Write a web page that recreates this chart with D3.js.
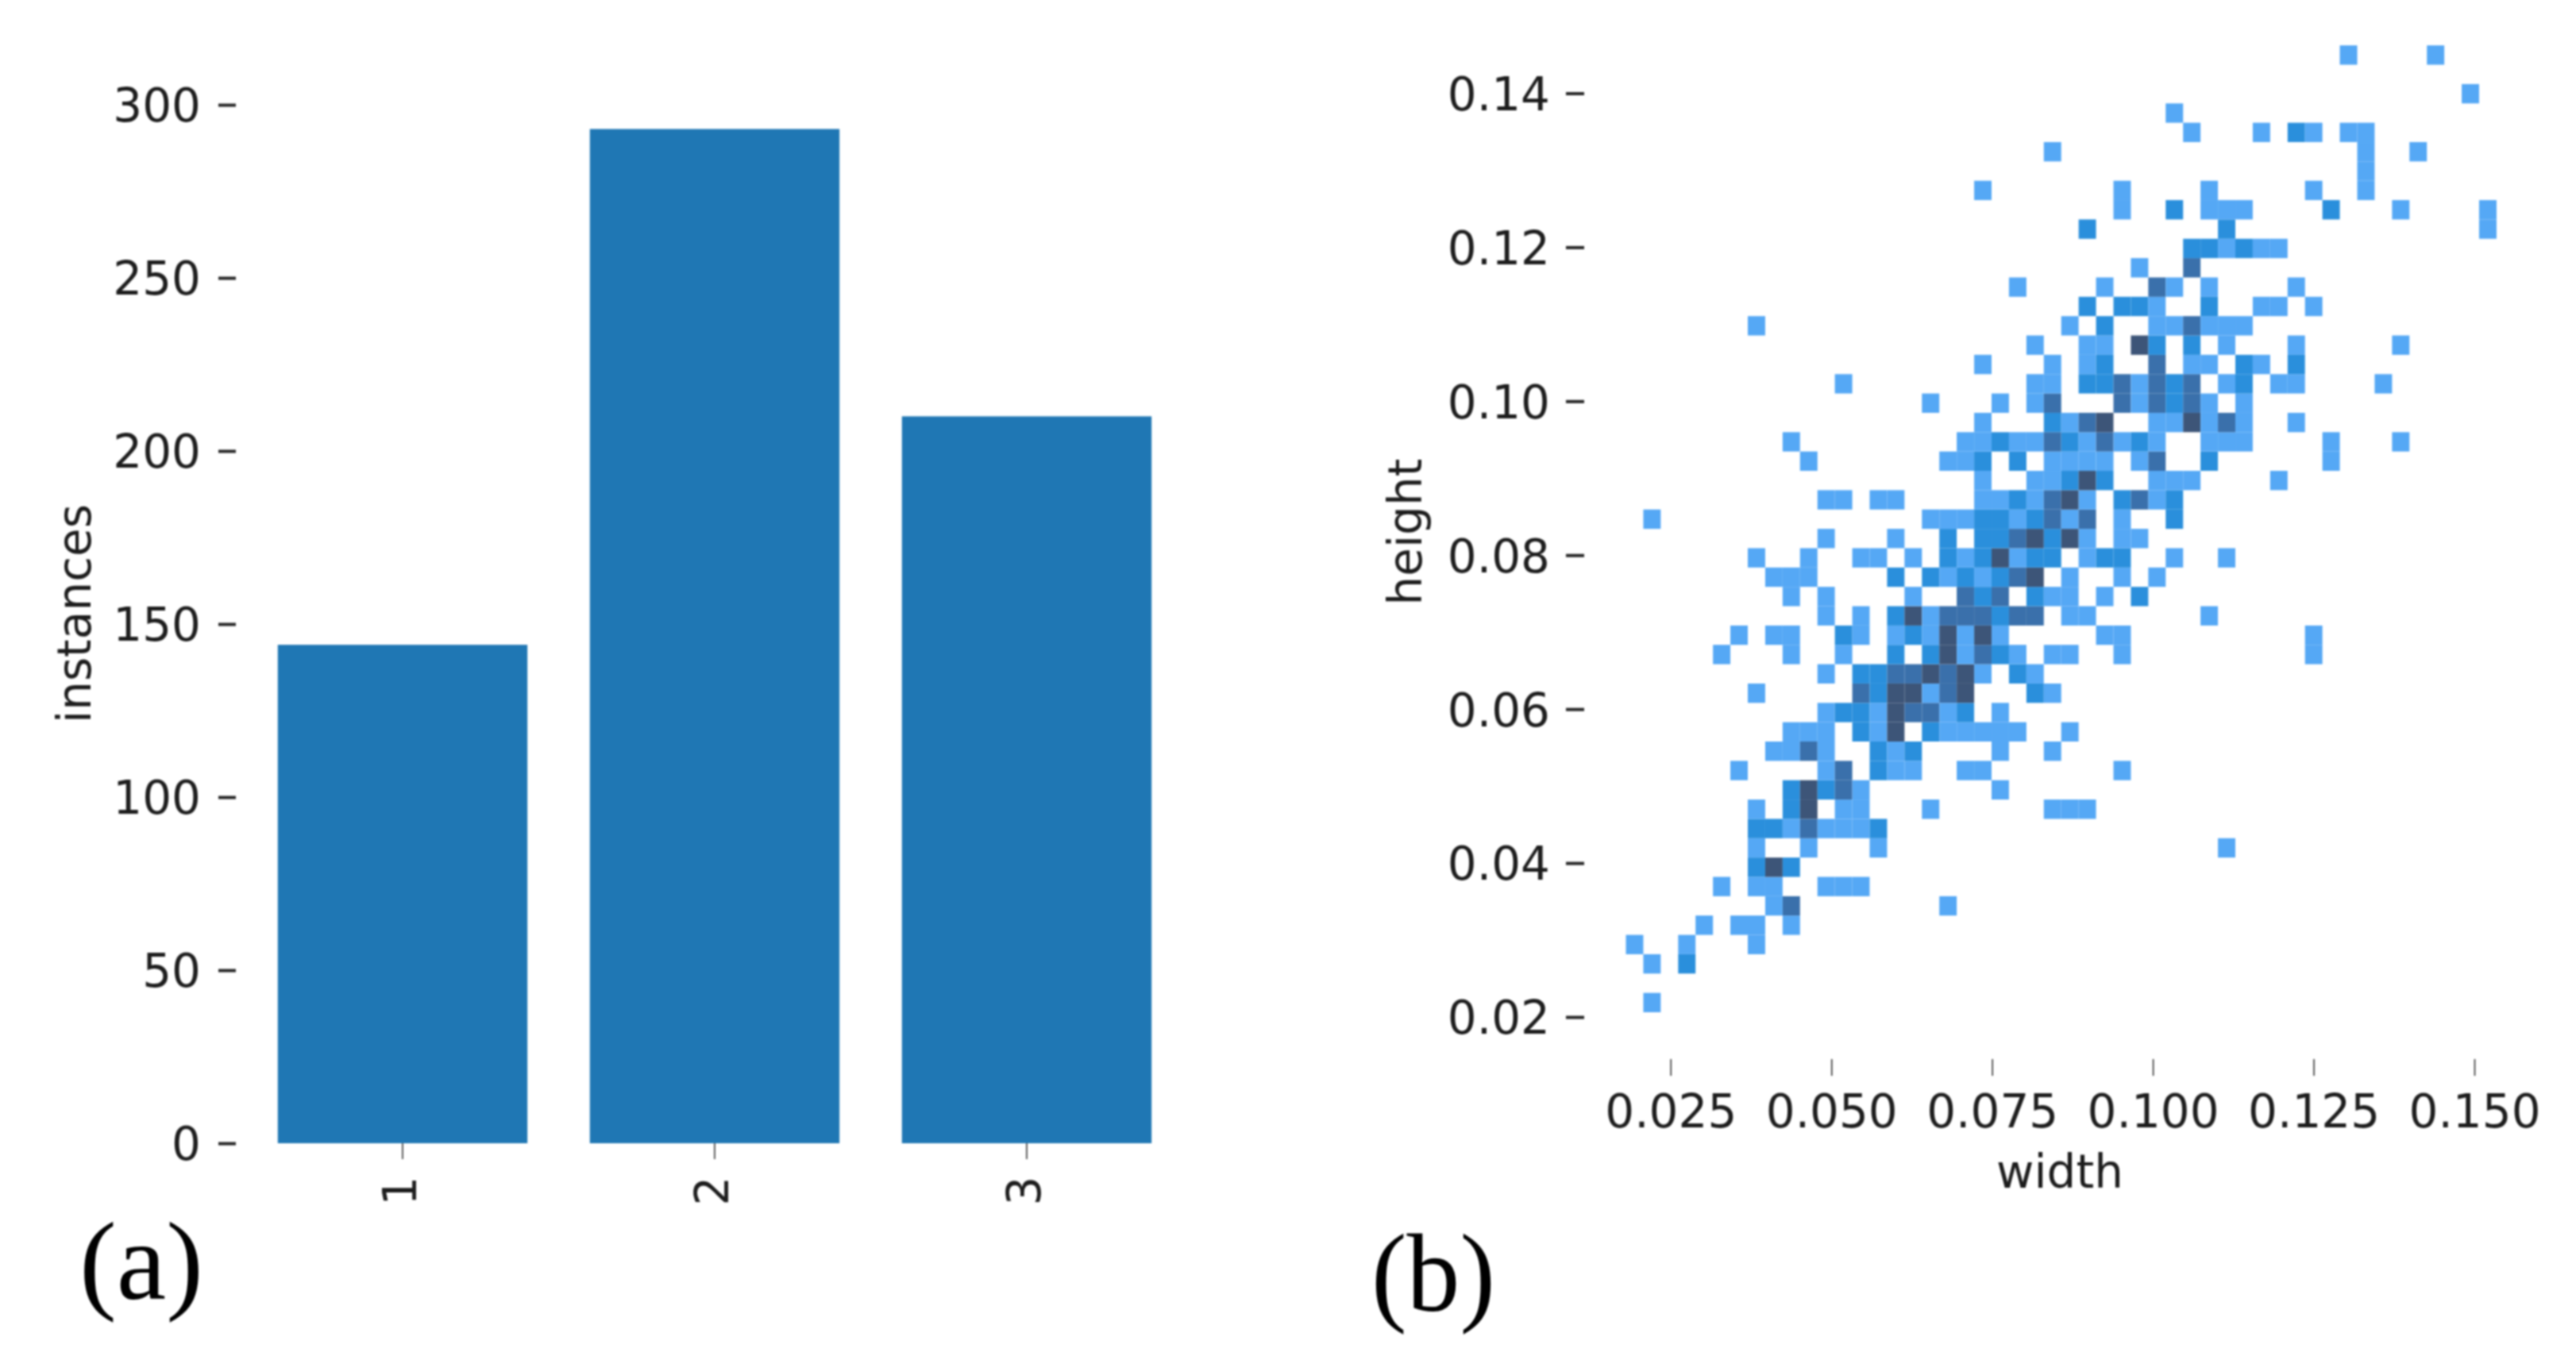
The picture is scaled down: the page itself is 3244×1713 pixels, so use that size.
<!DOCTYPE html>
<meta charset="utf-8" />
<title>Instances and box sizes</title>

<script src="https://d3js.org/d3.v7.min.js"></script>

<style>
  html,
  body {
    margin: 0;
    background: #fff;
  }

  svg {
    display: block;
    filter: blur(0.8px);
  }

  text {
    font-family: "DejaVu Sans", sans-serif;
    font-size: 58px;
    fill: #1c1c1c;
  }

  .tick line {
    stroke: #262626;
  }

  .panel-label {
    font-family: "Liberation Serif", serif;
    font-size: 140px;
    fill: #000;
  }
</style>

<div id="chart"></div>

<script>
  // (a) bar chart
  var barCategories = ["1", "2", "3"];
  var barValues = [144, 293, 210];
  var barTicks = [0, 50, 100, 150, 200, 250, 300];

  // (b) histogram bins
  var xTicks = [0.025, 0.05, 0.075, 0.1, 0.125, 0.15];
  var yTicks = [0.02, 0.04, 0.06, 0.08, 0.1, 0.12, 0.14];
  var xBinStart = 0.01805;
  var xBinSize = 0.002708;
  var yBinStart = 0.02062;
  var yBinSize = 0.002512;

  // one list per height bin, bottom row first, each entry is [width bin, count level]
  var binRows = [
    [[1, 1]],
    [],
    [[1, 1], [3, 2]],
    [[0, 1], [3, 1], [7, 1]],
    [[4, 1], [6, 1], [7, 1], [9, 1]],
    [[8, 1], [9, 3], [18, 1]],
    [[5, 1], [7, 1], [8, 1], [11, 1], [12, 1], [13, 1]],
    [[7, 2], [8, 4], [9, 2]],
    [[7, 1], [10, 1], [14, 1], [34, 1]],
    [[7, 2], [8, 2], [9, 1], [10, 3], [11, 1], [12, 1], [13, 1], [14, 2]],
    [[7, 1], [9, 2], [10, 4], [12, 1], [13, 1], [17, 1], [24, 1], [25, 1], [26, 1]],
    [[9, 2], [10, 4], [11, 2], [12, 3], [13, 1], [21, 1]],
    [[6, 1], [11, 1], [12, 3], [14, 2], [15, 1], [16, 1], [19, 1], [20, 1], [28, 1]],
    [[8, 1], [9, 1], [10, 3], [11, 1], [14, 2], [15, 1], [16, 2], [21, 1], [24, 1]],
    [[9, 1], [10, 1], [11, 1], [13, 2], [14, 1], [15, 4], [17, 2], [18, 1], [19, 1], [20, 1], [21, 1], [22, 1], [25, 1]],
    [[11, 1], [12, 2], [13, 2], [14, 1], [15, 4], [16, 3], [17, 3], [18, 1], [19, 2], [21, 1]],
    [[7, 1], [13, 3], [14, 2], [15, 4], [16, 4], [17, 1], [18, 3], [19, 4], [23, 2], [24, 1]],
    [[11, 1], [13, 2], [14, 2], [15, 3], [16, 3], [17, 4], [18, 3], [19, 4], [20, 1], [22, 2], [23, 1]],
    [[5, 1], [9, 1], [12, 1], [15, 2], [17, 2], [18, 4], [19, 1], [20, 3], [21, 2], [22, 1], [24, 1], [25, 1], [28, 1], [39, 1]],
    [[6, 1], [8, 1], [9, 1], [12, 2], [13, 1], [15, 1], [16, 2], [17, 1], [18, 4], [19, 1], [20, 4], [21, 1], [27, 1], [28, 1], [39, 1]],
    [[11, 1], [13, 1], [15, 2], [16, 4], [17, 1], [18, 3], [19, 3], [20, 3], [21, 2], [22, 3], [23, 3], [25, 1], [26, 1], [33, 1]],
    [[9, 1], [11, 1], [16, 1], [19, 3], [20, 2], [21, 3], [23, 2], [24, 1], [25, 1], [27, 1], [29, 2]],
    [[8, 1], [9, 1], [10, 1], [15, 2], [17, 2], [18, 1], [19, 2], [20, 1], [21, 2], [22, 3], [23, 4], [25, 1], [28, 1], [30, 1]],
    [[7, 1], [10, 1], [13, 1], [14, 1], [16, 1], [18, 2], [19, 1], [20, 2], [21, 4], [22, 1], [23, 2], [24, 2], [26, 1], [27, 2], [28, 2], [31, 1], [34, 1]],
    [[11, 1], [15, 1], [18, 2], [20, 2], [21, 2], [22, 3], [23, 4], [24, 2], [25, 4], [26, 1], [28, 1], [29, 1]],
    [[1, 1], [17, 1], [18, 1], [19, 1], [20, 2], [21, 2], [22, 1], [23, 2], [24, 3], [25, 1], [26, 3], [28, 1], [31, 2]],
    [[11, 1], [12, 1], [14, 1], [15, 1], [20, 1], [21, 1], [22, 2], [23, 1], [24, 3], [25, 4], [26, 1], [28, 2], [29, 3], [30, 1], [31, 2]],
    [[20, 1], [23, 1], [24, 1], [25, 2], [26, 4], [27, 2], [30, 1], [31, 1], [32, 1], [37, 1]],
    [[10, 1], [18, 1], [19, 1], [20, 2], [22, 2], [24, 1], [25, 1], [26, 1], [27, 1], [29, 1], [30, 3], [33, 2], [40, 1]],
    [[9, 1], [19, 1], [20, 1], [21, 2], [22, 1], [23, 1], [24, 3], [25, 2], [26, 1], [27, 3], [28, 1], [29, 2], [30, 1], [33, 1], [34, 1], [35, 1], [40, 1], [44, 1]],
    [[20, 1], [24, 2], [25, 1], [26, 3], [27, 4], [30, 1], [31, 1], [32, 4], [33, 1], [34, 3], [35, 1], [38, 1]],
    [[17, 1], [21, 1], [23, 1], [24, 3], [28, 3], [29, 1], [30, 3], [31, 2], [32, 3], [33, 1], [35, 1]],
    [[12, 1], [23, 1], [24, 1], [26, 2], [27, 2], [28, 3], [29, 1], [30, 3], [31, 2], [32, 3], [34, 1], [35, 2], [37, 1], [38, 1], [43, 1]],
    [[20, 1], [24, 1], [26, 1], [27, 2], [30, 3], [32, 1], [33, 1], [35, 2], [36, 1], [38, 2]],
    [[23, 1], [26, 1], [27, 1], [29, 4], [30, 2], [32, 2], [34, 1], [38, 1], [44, 1]],
    [[7, 1], [25, 1], [27, 2], [30, 1], [31, 1], [32, 3], [33, 1], [34, 1], [35, 1]],
    [[26, 2], [28, 2], [29, 2], [30, 1], [33, 2], [36, 1], [37, 1], [39, 1]],
    [[22, 1], [27, 1], [30, 3], [31, 1], [33, 1], [38, 1]],
    [[29, 1], [32, 3]],
    [[32, 2], [33, 2], [34, 1], [35, 2], [36, 1], [37, 1]],
    [[26, 2], [34, 2], [49, 1]],
    [[28, 1], [31, 2], [33, 1], [34, 1], [35, 1], [40, 2], [44, 1], [49, 1]],
    [[20, 1], [28, 1], [33, 1], [39, 1], [42, 1]],
    [[42, 1]],
    [[24, 1], [42, 1], [45, 1]],
    [[32, 1], [36, 1], [38, 2], [39, 1], [41, 1], [42, 1]],
    [[31, 1]],
    [[48, 1]],
    [],
    [[41, 1], [46, 1]],
  ];

  var countLevels = [1, 2, 3, 4];
  var levelColors = ["#55a8f5", "#2a8fdc", "#3a70ab", "#3d5578"];

  var svg = d3
    .select("#chart")
    .append("svg")
    .attr("width", 3244)
    .attr("height", 1713);

  // LEFT PANEL
  var barX = d3
    .scaleBand()
    .domain(barCategories)
    .range([310.5, 1489.5])
    .paddingInner(0.2)
    .paddingOuter(0.1);

  var barY = d3.scaleLinear().domain([0, 300]).range([1440, 132]);

  svg
    .append("g")
    .selectAll("rect")
    .data(barCategories)
    .join("rect")
    .attr("x", (d) => barX(d))
    .attr("y", (d, i) => barY(barValues[i]))
    .attr("width", barX.bandwidth())
    .attr("height", (d, i) => barY(0) - barY(barValues[i]))
    .attr("fill", "#1f77b4");

  var barLeftAxis = svg
    .append("g")
    .attr("transform", "translate(297,0)")
    .call(d3.axisLeft(barY).tickValues(barTicks).tickSize(22).tickPadding(22));
  barLeftAxis.select(".domain").remove();
  barLeftAxis.selectAll(".tick line").attr("stroke-width", 4);
  barLeftAxis.selectAll(".tick text").attr("dy", "0.36em");

  var barBottomAxis = svg
    .append("g")
    .attr("transform", "translate(0,1440)")
    .call(d3.axisBottom(barX).tickSize(20));
  barBottomAxis.select(".domain").remove();
  barBottomAxis.selectAll(".tick line").attr("stroke-width", 1.5);
  barBottomAxis
    .selectAll(".tick text")
    .attr("y", 0)
    .attr("dy", "0.3em")
    .attr("text-anchor", "middle")
    .attr("transform", "translate(0,60) rotate(-90)");

  // RIGHT PANEL
  var x = d3.scaleLinear().domain([0.025, 0.15]).range([2103.8, 3116]);
  var y = d3.scaleLinear().domain([0.02, 0.14]).range([1281, 117.5]);

  var binCells = binRows.flatMap((row, r) =>
    row.map((cell) => ({ col: cell[0], row: r, level: cell[1] }))
  );

  var color = d3.scaleOrdinal().domain(countLevels).range(levelColors);

  svg
    .append("g")
    .selectAll("rect")
    .data(binCells)
    .join("rect")
    .attr("x", (d) => x(xBinStart + d.col * xBinSize))
    .attr("y", (d) => y(yBinStart + (d.row + 1) * yBinSize))
    .attr("width", x(xBinStart + xBinSize) - x(xBinStart))
    .attr("height", y(yBinStart) - y(yBinStart + yBinSize))
    .attr("fill", (d) => color(d.level));

  var leftAxis = svg
    .append("g")
    .attr("transform", "translate(1995,0)")
    .call(
      d3
        .axisLeft(y)
        .tickValues(yTicks)
        .tickFormat(d3.format(".2f"))
        .tickSize(23)
        .tickPadding(20)
    );
  leftAxis.select(".domain").remove();
  leftAxis.selectAll(".tick line").attr("stroke-width", 4);
  leftAxis.selectAll(".tick text").attr("dy", "0.36em");

  var bottomAxis = svg
    .append("g")
    .attr("transform", "translate(0,1334)")
    .call(
      d3
        .axisBottom(x)
        .tickValues(xTicks)
        .tickFormat(d3.format(".3f"))
        .tickSize(21)
        .tickPadding(24)
    );
  bottomAxis.select(".domain").remove();
  bottomAxis.selectAll(".tick line").attr("stroke-width", 1.5);

  // d3 axes set their own font on the group
  svg.selectAll(".tick text").style("font-size", "58px").style("font-family", '"DejaVu Sans", sans-serif').attr("fill", "#1c1c1c");

  // AXIS TITLES AND PANEL LABELS
  svg
    .append("text")
    .attr("transform", "translate(114,773) rotate(-90)")
    .attr("text-anchor", "middle")
    .text("instances");

  svg
    .append("text")
    .attr("transform", "translate(1790,670) rotate(-90)")
    .attr("text-anchor", "middle")
    .text("height");

  svg
    .append("text")
    .attr("x", 2594)
    .attr("y", 1496)
    .attr("text-anchor", "middle")
    .text("width");

  svg
    .append("text")
    .attr("class", "panel-label")
    .attr("x", 100)
    .attr("y", 1636)
    .attr("textLength", 156)
    .attr("lengthAdjust", "spacingAndGlyphs")
    .text("(a)");

  svg
    .append("text")
    .attr("class", "panel-label")
    .attr("x", 1727)
    .attr("y", 1651)
    .attr("textLength", 156)
    .attr("lengthAdjust", "spacingAndGlyphs")
    .text("(b)");
</script>
